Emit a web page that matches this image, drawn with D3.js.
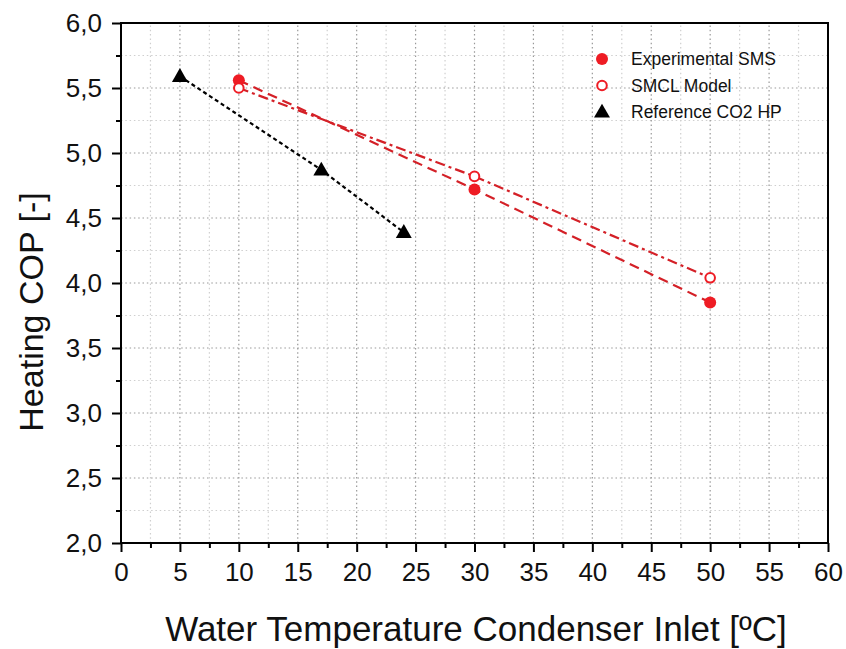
<!DOCTYPE html>
<html>
<head>
<meta charset="utf-8">
<script src="https://cdn.jsdelivr.net/npm/d3@7"></script>
<style>
  body { margin: 0; background: #fff; }
  text { font-family: "Liberation Sans", Arial, sans-serif; }
</style>
</head>
<body>
<div id="chart"></div>
<script>
// data
var expTemp = [10, 30, 50]
var expCOP = [5.56, 4.72, 3.85]
var modelTemp = [10, 30, 50]
var modelCOP = [5.50, 4.82, 4.04]
var refTemp = [5, 17, 24]
var refCOP = [5.59, 4.87, 4.39]
var xTicks = [0, 5, 10, 15, 20, 25, 30, 35, 40, 45, 50, 55, 60]
var yTicks = [2.0, 2.5, 3.0, 3.5, 4.0, 4.5, 5.0, 5.5, 6.0]
var legendNames = ["Experimental SMS", "SMCL Model", "Reference CO2 HP"]

var width = 846, height = 649
var margin = {left: 121, top: 23, right: 18, bottom: 106}
var red = "#ee1c24", lineRed = "#d42027"

var svg = d3.select("#chart").append("svg")
    .attr("width", width)
    .attr("height", height)

var x = d3.scaleLinear().domain([0, 60]).range([margin.left, width - margin.right])
var y = d3.scaleLinear().domain([2, 6]).range([height - margin.bottom, margin.top])

// grid: minor lighter, major darker
function grid(xs, ys, col) {
    var g = svg.append("g")
    g.selectAll("line.v").data(xs).enter().append("line").attr("class", "v")
        .attr("x1", d => x(d)).attr("x2", d => x(d))
        .attr("y1", y(2)).attr("y2", y(6))
    g.selectAll("line.h").data(ys).enter().append("line").attr("class", "h")
        .attr("y1", d => y(d)).attr("y2", d => y(d))
        .attr("x1", x(0)).attr("x2", x(60))
    g.selectAll("line").style("stroke", col).style("stroke-width", 1.2).style("stroke-dasharray", "1.5,2.8")
}
grid(d3.range(2.5, 60, 5), d3.range(2.25, 6, 0.5), "#cfcfcf")
grid(xTicks.slice(1, -1), yTicks.slice(1, -1), "#999")

// frame
svg.append("rect")
    .attr("x", x(0)).attr("y", y(6))
    .attr("width", x(60) - x(0)).attr("height", y(2) - y(6))
    .style("fill", "none").style("stroke", "#000").style("stroke-width", 2)

// axes
var fmt = d3.format(".1f")
var xAxis = svg.append("g").attr("transform", "translate(0," + y(2) + ")")
    .call(d3.axisBottom(x).tickValues(xTicks).tickSize(9).tickPadding(11))
var xMinor = svg.append("g").attr("transform", "translate(0," + y(2) + ")")
    .call(d3.axisBottom(x).tickValues(d3.range(2.5, 60, 5)).tickSize(5).tickFormat(""))
var yAxis = svg.append("g").attr("transform", "translate(" + x(0) + ",0)")
    .call(d3.axisLeft(y).tickValues(yTicks).tickSize(9).tickPadding(10)
        .tickFormat(d => fmt(d).replace(".", ",")))
var yMinor = svg.append("g").attr("transform", "translate(" + x(0) + ",0)")
    .call(d3.axisLeft(y).tickValues(d3.range(2.25, 6, 0.5)).tickSize(5).tickFormat(""))
;[xAxis, xMinor, yAxis, yMinor].forEach(function(g) {
    g.attr("font-size", 26).attr("font-family", null)
    g.select(".domain").remove()
    g.selectAll(".tick line").style("stroke", "#000").style("stroke-width", 2)
    g.selectAll(".tick text").style("font-size", "26px").style("fill", "#111")
})

// axis titles
svg.append("text")
    .attr("x", 476).attr("y", 641)
    .attr("text-anchor", "middle")
    .style("font-size", "35px").style("fill", "#111")
    .text("Water Temperature Condenser Inlet [ºC]")
svg.append("text")
    .attr("transform", "translate(43,312) rotate(-90)")
    .attr("text-anchor", "middle")
    .style("font-size", "34px").style("fill", "#111")
    .text("Heating COP [-]")

// series lines
var line = d3.line().x(d => x(d[0])).y(d => y(d[1]))
function series(t, v) { return t.map((d, i) => [d, v[i]]) }

svg.append("path").datum(series(expTemp, expCOP)).attr("d", line)
    .style("fill", "none").style("stroke", lineRed).style("stroke-width", 2.2)
    .style("stroke-dasharray", "10,6")
svg.append("path").datum(series(modelTemp, modelCOP)).attr("d", line)
    .style("fill", "none").style("stroke", lineRed).style("stroke-width", 2.2)
    .style("stroke-dasharray", "10,4,3,4")
svg.append("path").datum(series(refTemp, refCOP)).attr("d", line)
    .style("fill", "none").style("stroke", "#000").style("stroke-width", 2.2)
    .style("stroke-dasharray", "4,3")

// markers
var tri = d3.symbol().type(d3.symbolTriangle).size(110)
svg.append("g").selectAll("circle").data(series(expTemp, expCOP)).enter().append("circle")
    .attr("cx", d => x(d[0])).attr("cy", d => y(d[1])).attr("r", 6)
    .style("fill", red)
svg.append("g").selectAll("circle").data(series(modelTemp, modelCOP)).enter().append("circle")
    .attr("cx", d => x(d[0])).attr("cy", d => y(d[1])).attr("r", 4.8)
    .style("fill", "#fff").style("stroke", red).style("stroke-width", 2)
svg.append("g").selectAll("path").data(series(refTemp, refCOP)).enter().append("path")
    .attr("d", tri)
    .attr("transform", d => "translate(" + x(d[0]) + "," + (y(d[1]) + 1) + ")")
    .style("fill", "#000")

// legend
var legend = svg.append("g")
legendNames.forEach(function(name, i) {
    var ly = 59 + i * 26.5
    if (i == 0) legend.append("circle").attr("cx", 602).attr("cy", ly).attr("r", 6).style("fill", red)
    if (i == 1) legend.append("circle").attr("cx", 602).attr("cy", ly).attr("r", 4.8)
        .style("fill", "#fff").style("stroke", red).style("stroke-width", 2)
    if (i == 2) legend.append("path").attr("d", tri).attr("transform", "translate(602," + (ly + 1) + ")")
        .style("fill", "#000")
    legend.append("text").attr("x", 631).attr("y", ly + 6)
        .style("font-size", "17.5px").style("fill", "#111").text(name)
})
</script>
</body>
</html>
